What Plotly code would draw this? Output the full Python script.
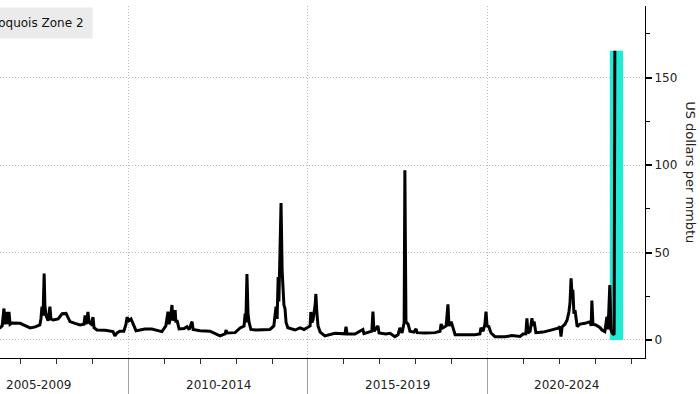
import plotly.graph_objects as go

# ---- data (time in fractional years, price in US$/mmbtu) ----
years = [
    2006.30, 2006.42, 2006.48, 2006.53, 2006.56, 2006.62, 2006.64, 2006.67, 2006.70, 2006.75,
    2006.98, 2007.12, 2007.26, 2007.40, 2007.53, 2007.56, 2007.59, 2007.62, 2007.65, 2007.67,
    2007.70, 2007.76, 2007.81, 2007.84, 2007.90, 2008.04, 2008.15, 2008.26, 2008.31, 2008.37,
    2008.51, 2008.65, 2008.76, 2008.79, 2008.82, 2008.87, 2008.90, 2008.96, 2009.01, 2009.04,
    2009.12, 2009.35, 2009.57, 2009.62, 2009.68, 2009.76, 2009.87, 2009.93, 2009.96, 2010.01,
    2010.07, 2010.13, 2010.21,
    2010.32, 2010.46, 2010.65, 2010.88, 2010.93, 2011.04, 2011.10, 2011.13, 2011.18, 2011.21,
    2011.24, 2011.30, 2011.32, 2011.35, 2011.41, 2011.55, 2011.63, 2011.69, 2011.77, 2011.80,
    2011.99, 2012.27, 2012.41, 2012.55, 2012.69, 2012.72, 2012.74, 2012.97, 2013.11, 2013.22,
    2013.25, 2013.27, 2013.30, 2013.33, 2013.36, 2013.41, 2013.55,
    2013.72, 2013.94, 2014.05, 2014.11, 2014.14, 2014.17, 2014.19, 2014.22, 2014.25, 2014.28,
    2014.30, 2014.33, 2014.36, 2014.39, 2014.44, 2014.64, 2014.78, 2014.89, 2015.06, 2015.08,
    2015.11, 2015.14, 2015.20, 2015.22, 2015.25, 2015.28, 2015.34, 2015.47, 2015.75, 2016.03,
    2016.06, 2016.09, 2016.31, 2016.53, 2016.56, 2016.73, 2016.78, 2016.81, 2016.84, 2016.95,
    2016.98, 2017.17,
    2017.29, 2017.42, 2017.51, 2017.56, 2017.62, 2017.68, 2017.70, 2017.73, 2017.79, 2017.84,
    2017.95, 2018.01, 2018.04, 2018.26, 2018.54, 2018.68, 2018.71, 2018.76, 2018.85, 2018.90,
    2018.93, 2018.99, 2019.04, 2019.10, 2019.37, 2019.65, 2019.79, 2019.82, 2019.88, 2019.93,
    2019.96, 2019.99, 2020.04, 2020.10, 2020.21, 2020.49, 2020.68,
    2020.91, 2020.99, 2021.07, 2021.10, 2021.13, 2021.19, 2021.24, 2021.27, 2021.30, 2021.35,
    2021.55, 2021.74, 2021.97, 2022.02, 2022.05, 2022.08, 2022.16, 2022.22, 2022.27, 2022.30,
    2022.33, 2022.36, 2022.38, 2022.41, 2022.44, 2022.50, 2022.58, 2022.72, 2022.86, 2022.89,
    2022.91, 2022.94, 2023.02, 2023.14, 2023.19, 2023.27, 2023.30, 2023.33, 2023.36, 2023.41,
    2023.44, 2023.47, 2023.53, 2023.55,
]
prices = [
    6.8, 7.0, 8.0, 18.0, 9.0, 16.0, 9.0, 16.0, 9.0, 9.7,
    9.5, 8.0, 6.9, 7.5, 8.6, 12.0, 19.0, 14.0, 38.0, 20.0,
    14.0, 11.0, 19.0, 12.0, 11.4, 12.0, 15.0, 15.2, 13.0, 10.5,
    9.5, 8.6, 9.0, 14.0, 9.0, 16.0, 10.0, 9.0, 13.0, 7.0,
    5.7, 5.5, 4.8, 2.3, 4.0, 5.0, 5.0, 9.0, 13.0, 11.0,
    12.0, 9.0, 5.3,
    5.7, 6.3, 6.3, 5.0, 4.8, 8.0, 16.2, 9.0, 14.0, 20.0,
    11.0, 17.1, 10.0, 11.4, 6.3, 6.5, 7.6, 6.0, 10.5, 6.0,
    5.3, 5.0, 3.8, 2.3, 3.5, 5.7, 4.0, 4.2, 6.9, 8.0,
    15.0, 10.0, 37.7, 15.0, 10.0, 6.0, 5.7,
    5.7, 6.0, 8.0, 19.0, 12.0, 36.0, 22.0, 50.0, 78.3, 40.0,
    32.6, 20.0, 18.0, 10.0, 7.0, 5.7, 6.9, 6.0, 8.0, 16.0,
    10.0, 11.4, 20.0, 26.3, 15.0, 8.0, 4.5, 2.3, 3.8, 3.5,
    7.6, 3.5, 3.4, 6.0, 3.6, 4.8, 5.0, 16.2, 5.0, 8.0,
    4.0, 3.4,
    3.8, 1.9, 3.0, 6.9, 4.0, 10.0, 97.0, 10.5, 9.0, 5.0,
    4.5, 6.3, 4.2, 4.0, 4.2, 5.0, 9.1, 6.9, 8.0, 20.4,
    8.0, 10.5, 7.0, 3.0, 3.0, 3.0, 3.5, 7.0, 5.0, 9.0,
    16.2, 8.0, 7.6, 4.0, 1.9, 1.9, 2.5,
    2.0, 3.4, 3.5, 12.4, 4.0, 5.0, 12.4, 8.0, 10.5, 4.2,
    4.5, 5.5, 6.8, 7.6, 2.0, 7.5, 9.0, 11.4, 16.0, 21.0,
    35.2, 25.0, 28.6, 15.0, 17.0, 7.6, 9.1, 9.5, 10.5, 8.0,
    22.5, 9.0, 8.6, 7.0, 5.7, 4.8, 9.0, 13.3, 6.0, 31.4,
    6.0, 4.0, 3.0, 165.3,
]
series_name = "Iroquois Zone 2"
y_title = "US dollars per mmbtu"

# highlighted latest period
highlight_start = 2023.41
highlight_end = 2023.78

# five-year groups shown under the axis
group_labels = ["2005-2009", "2010-2014", "2015-2019", "2020-2024"]
group_bounds = [(2005, 2010), (2010, 2015), (2015, 2020), (2020, 2025)]
full_start = 2004.3          # start of the (cropped) full chart
view_range = [2006.42, 2024.39]
y_range = [-10.3, 190.9]

FONT = "DejaVu Sans"
GRID = "#b8b8b8"

fig = go.Figure()
fig.add_trace(go.Scatter(
    x=years, y=prices, mode="lines", name=series_name,
    line=dict(color="black", width=3), hoverinfo="skip",
))

fig.add_shape(type="rect", xref="x", yref="y",
              x0=highlight_start, x1=highlight_end, y0=0, y1=max(prices),
              fillcolor="#20ECD5", line=dict(width=0), layer="between")

for lab, (lo, hi) in zip(group_labels, group_bounds):
    c = (max(lo, full_start) + min(hi, view_range[1])) / 2
    fig.add_annotation(x=c, xref="x", y=-0.0767, yref="paper", text=lab,
                       showarrow=False, xanchor="center", yanchor="middle",
                       font=dict(family=FONT, size=12, color="#222"))

fig.add_annotation(x=93 / 645, xref="paper", y=0.997, yref="paper",
                   text=series_name, showarrow=False, xanchor="right", yanchor="top",
                   bgcolor="#ebebeb", borderpad=8,
                   font=dict(family=FONT, size=12, color="#111"))

fig.add_annotation(x=1.0713, xref="paper", y=0.528, yref="paper",
                   text=y_title, showarrow=False, textangle=90,
                   xanchor="center", yanchor="middle",
                   font=dict(family=FONT, size=13, color="#222"))

fig.update_layout(
    width=700, height=394,
    margin=dict(l=0, r=55, t=6, b=36),
    plot_bgcolor="white", paper_bgcolor="white",
    showlegend=False,
    xaxis=dict(
        type="linear", range=view_range,
        showline=True, linecolor="black", linewidth=1,
        tick0=2005, dtick=5, ticks="outside", ticklen=36, tickcolor="#a0a0a0", tickwidth=1,
        showticklabels=False,
        showgrid=True, gridcolor=GRID, griddash="1px,2px", gridwidth=1,
        zeroline=False,
        minor=dict(tick0=2005, dtick=1, ticks="outside", ticklen=5,
                   tickcolor="#333", tickwidth=1, showgrid=False),
    ),
    yaxis=dict(
        side="right", range=y_range,
        tick0=0, dtick=50,
        showline=True, linecolor="black", linewidth=1,
        ticks="outside", ticklen=6, tickwidth=2, tickcolor="black",
        showgrid=True, gridcolor=GRID, griddash="1px,2px", gridwidth=1,
        zeroline=False,
        tickfont=dict(family=FONT, size=12, color="#222"),
        minor=dict(tick0=0, dtick=25, ticks="outside", ticklen=4,
                   tickcolor="black", tickwidth=1, showgrid=False),
    ),
)

fig.write_html("out.html",
               config={"displayModeBar": False, "staticPlot": True},
               post_script="document.body.style.margin='0';document.body.style.overflow='hidden';")
